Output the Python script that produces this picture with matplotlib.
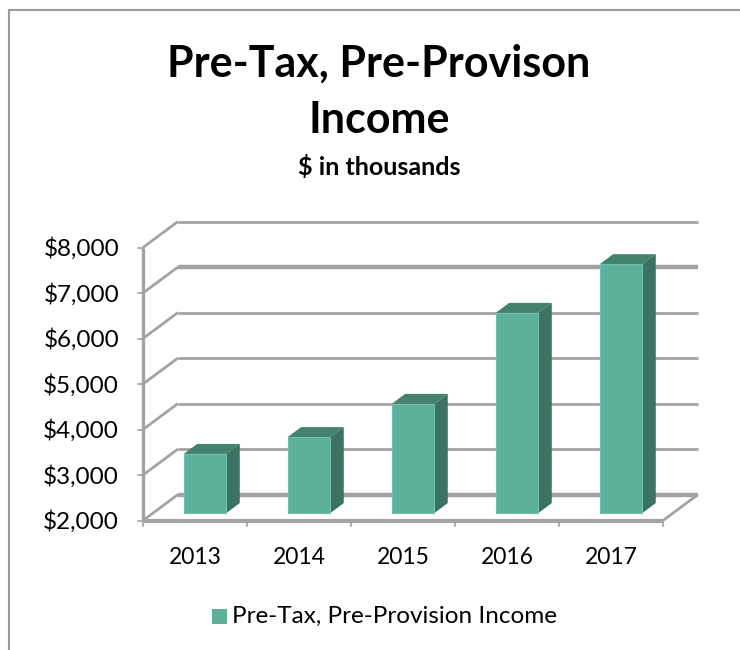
import matplotlib
matplotlib.use('Agg')
import matplotlib.pyplot as plt
from matplotlib.patches import Polygon, Rectangle

years = ['2013', '2014', '2015', '2016', '2017']
income = [3300, 3670, 4400, 6400, 7470]
y_ticks = [2000, 3000, 4000, 5000, 6000, 7000, 8000]
series_name = 'Pre-Tax, Pre-Provision Income'

plt.rcParams['font.family'] = ['Lato', 'DejaVu Sans']

W, H = 740, 650
fig = plt.figure(figsize=(W / 100, H / 100), dpi=100)

# front plane of the fake 3D box, pixel placement
left, right, top, bottom = 143, 663, 247.5, 520.5
ax = fig.add_axes([left / W, 1 - bottom / H, (right - left) / W, (bottom - top) / H])
ax.set_xlim(0, 5)
ax.set_ylim(2000, 8000)
ax.axis('off')

# depth of the box in data units
depth_x = 35 / 104
depth_y = 26 / 45.5 * 1000
grid = '#a3a3a3'


def proj(x, y, d):
    return x + d * depth_x, y + d * depth_y


def line(xs, ys, lw=2.0, color=grid):
    ax.plot(xs, ys, color=color, lw=lw, clip_on=False, solid_capstyle='butt', zorder=2)


# back wall gridlines and their slanted side wall parts
for v in y_ticks:
    bx0, by0 = proj(0, v, 1)
    bx1, _ = proj(5, v, 1)
    lw = 3.2 if v in (2000, 7000) else 2.0
    line([bx0, bx1], [by0, by0], lw=lw)
    line([0, bx0], [v, by0], lw=2.0)
    # tick on the value axis
    ax.plot([-0.05, 0], [v, v], color=grid, lw=1.2, clip_on=False)

# floor front edge, right side edge, value axis
line([0, 5], [2000, 2000], lw=3.0)
bx, by = proj(5, 2000, 1)
line([5, bx], [2000, by], lw=2.0)
line([0, 0], [2000, 8000], lw=2.4)
for i in range(6):
    ax.plot([i, i], [2000, 1880], color=grid, lw=1.2, clip_on=False)

# bars: front, top and side faces
bar_w = 0.41
d0, d1 = 0.285, 0.67
face, top_c, side = '#5cb09a', '#43826f', '#3b7261'
for i, val in enumerate(income):
    x0 = i + 0.5 - bar_w / 2
    x1 = x0 + bar_w
    fx0, fy0 = proj(x0, 2000, d0)
    fx1, fy1 = proj(x1, val, d0)
    bx1, by0 = proj(x1, 2000, d1)
    bx0, by1 = proj(x0, val, d1)
    bx1t, by1t = proj(x1, val, d1)
    ax.add_patch(Polygon([(fx0, fy1), (fx1, fy1), (bx1t, by1t), (bx0, by1)],
                         color=top_c, lw=0, clip_on=False, zorder=3))
    ax.add_patch(Polygon([(fx1, fy0), (bx1, by0), (bx1t, by1t), (fx1, fy1)],
                         color=side, lw=0, clip_on=False, zorder=3))
    ax.add_patch(Rectangle((fx0, fy0), fx1 - fx0, fy1 - fy0, facecolor=face,
                           edgecolor='#74bfaa', lw=0.8, clip_on=False, zorder=4))
    ax.text(i + 0.5, 1195, years[i], ha='center', va='center', fontsize=16.5, color='black')

for v in y_ticks:
    ax.text(-0.23, v - 25, f'${v:,}', ha='right', va='center', fontsize=17.5, color='black')

# titles
fig.text(379 / W, 1 - 64 / H, 'Pre-Tax, Pre-Provison', ha='center', va='center',
         fontsize=31, fontweight='bold')
fig.text(379 / W, 1 - 120 / H, 'Income', ha='center', va='center', fontsize=31, fontweight='bold')
fig.text(379 / W, 1 - 167 / H, '$ in thousands', ha='center', va='center', fontsize=18,
         fontweight='bold', parse_math=False)

# legend
fig.patches.append(Rectangle((212 / W, 1 - 624 / H), 15 / W, 15 / H, transform=fig.transFigure,
                             facecolor=face, edgecolor='none'))
fig.text(232 / W, 1 - 616 / H, series_name, ha='left', va='center', fontsize=17.5)

# chart frame, open towards the right and the bottom
frame = {'color': '#9a9a9a', 'lw': 1.5}
fig.add_artist(plt.Line2D([8.5 / W, 8.5 / W], [0, 1 - 10 / H], **frame))
fig.add_artist(plt.Line2D([8.5 / W, 1], [1 - 10 / H, 1 - 10 / H], **frame))

fig.savefig('out.png', dpi=100)
